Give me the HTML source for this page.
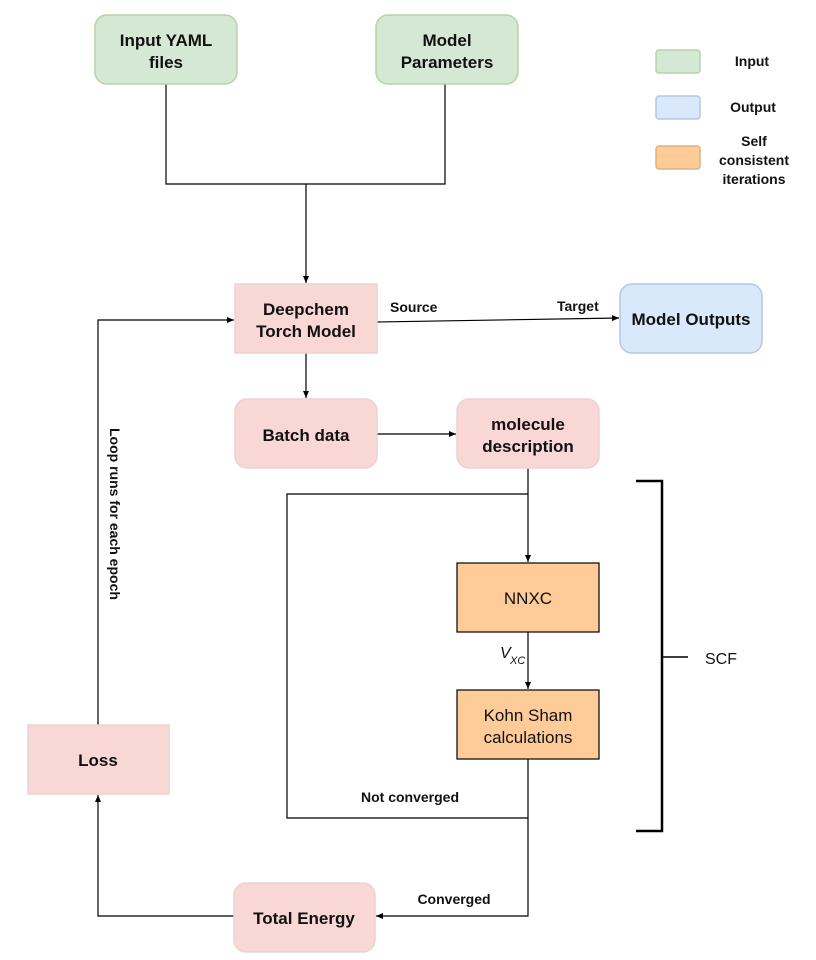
<!DOCTYPE html>
<html><head><meta charset="utf-8"><style>
html,body{margin:0;padding:0;background:#fff;}
svg{display:block;}
text{font-family:"Liberation Sans",Arial,sans-serif;fill:#111;}
.b{font-weight:bold;font-size:17px;}
.s{font-weight:bold;font-size:14px;}
.n{font-size:17px;}
</style></head><body>
<svg width="816" height="960" viewBox="0 0 816 960" xmlns="http://www.w3.org/2000/svg">
<defs><marker id="a" markerWidth="8" markerHeight="8" refX="7" refY="4" orient="auto" markerUnits="userSpaceOnUse"><path d="M0,1 L7,4 L0,7 z" fill="#000"/></marker></defs>
<g stroke="#000" stroke-width="1.2" fill="none">
<polyline points="166,84 166,184 445,184 445,84"/>
<line x1="306" y1="184" x2="306" y2="283" marker-end="url(#a)"/>
<line x1="377" y1="322" x2="619" y2="318" marker-end="url(#a)"/>
<line x1="306" y1="353" x2="306" y2="398" marker-end="url(#a)"/>
<line x1="377" y1="434" x2="456" y2="434" marker-end="url(#a)"/>
<line x1="528" y1="468" x2="528" y2="562" marker-end="url(#a)"/>
<polyline points="528,818 287,818 287,494 528,494"/>
<line x1="528" y1="632" x2="528" y2="689" marker-end="url(#a)"/>
<polyline points="528,759 528,916 376,916" marker-end="url(#a)"/>
<polyline points="234,916 98,916 98,795" marker-end="url(#a)"/>
<polyline points="98,725 98,320 234,320" marker-end="url(#a)"/>
<polyline points="636,481 662,481 662,831 636,831" stroke-width="2.5"/>
<line x1="662" y1="657" x2="688" y2="657" stroke-width="1.5"/>
</g>
<g stroke-width="1.5">
<rect x="95" y="15" width="142" height="69" rx="12" fill="#d5e8d4" stroke="#b5d3a5"/>
<rect x="376" y="15" width="142" height="69" rx="12" fill="#d5e8d4" stroke="#b5d3a5"/>
<rect x="235" y="284" width="142" height="69" fill="#f8d7d4" stroke="#ead3d3"/>
<rect x="620" y="284" width="142" height="69" rx="12" fill="#dae8fc" stroke="#b3c7e6"/>
<rect x="235" y="399" width="142" height="69" rx="12" fill="#f8d7d4" stroke="#ead3d3"/>
<rect x="457" y="399" width="142" height="69" rx="12" fill="#f8d7d4" stroke="#ead3d3"/>
<rect x="457" y="563" width="142" height="69" fill="#ffcc99" stroke="#000" stroke-width="1.2"/>
<rect x="457" y="690" width="142" height="69" fill="#ffcc99" stroke="#000" stroke-width="1.2"/>
<rect x="234" y="883" width="141" height="69" rx="12" fill="#f8d7d4" stroke="#ead3d3"/>
<rect x="28" y="725" width="141" height="69" fill="#f8d7d4" stroke="#ead3d3"/>
<rect x="656" y="50" width="44" height="23" rx="3" fill="#d5e8d4" stroke="#b5d3a5"/>
<rect x="656" y="96" width="44" height="23" rx="3" fill="#dae8fc" stroke="#b3c7e6"/>
<rect x="656" y="146" width="44" height="23" rx="3" fill="#ffcc99" stroke="#e0b080"/>
</g>
<g text-anchor="middle">
<text class="b" x="166" y="46">Input YAML</text><text class="b" x="166" y="68">files</text>
<text class="b" x="447" y="46">Model</text><text class="b" x="447" y="68">Parameters</text>
<text class="b" x="306" y="315">Deepchem</text><text class="b" x="306" y="337">Torch Model</text>
<text class="b" x="691" y="325">Model Outputs</text>
<text class="b" x="306" y="441">Batch data</text>
<text class="b" x="528" y="430">molecule</text><text class="b" x="528" y="452">description</text>
<text class="n" x="528" y="604">NNXC</text>
<text class="n" x="528" y="721">Kohn Sham</text><text class="n" x="528" y="743">calculations</text>
<text class="b" x="304" y="924">Total Energy</text>
<text class="b" x="98" y="766">Loss</text>
<text class="s" x="752" y="66">Input</text>
<text class="s" x="753" y="112">Output</text>
<text class="s" x="754" y="146">Self</text><text class="s" x="754" y="165">consistent</text><text class="s" x="754" y="184">iterations</text>
<text class="s" x="410" y="802">Not converged</text>
<text class="s" x="454" y="904">Converged</text>
</g>
<text class="s" x="390" y="312">Source</text>
<text class="s" x="557" y="311">Target</text>
<text x="500" y="658" style="font-style:italic;font-size:16px">V</text>
<text x="510" y="664" style="font-style:italic;font-size:11px">XC</text>
<text x="705" y="664" style="font-size:16px">SCF</text>
<text class="s" transform="translate(110,428) rotate(90)">Loop runs for each epoch</text>
</svg>
</body></html>
